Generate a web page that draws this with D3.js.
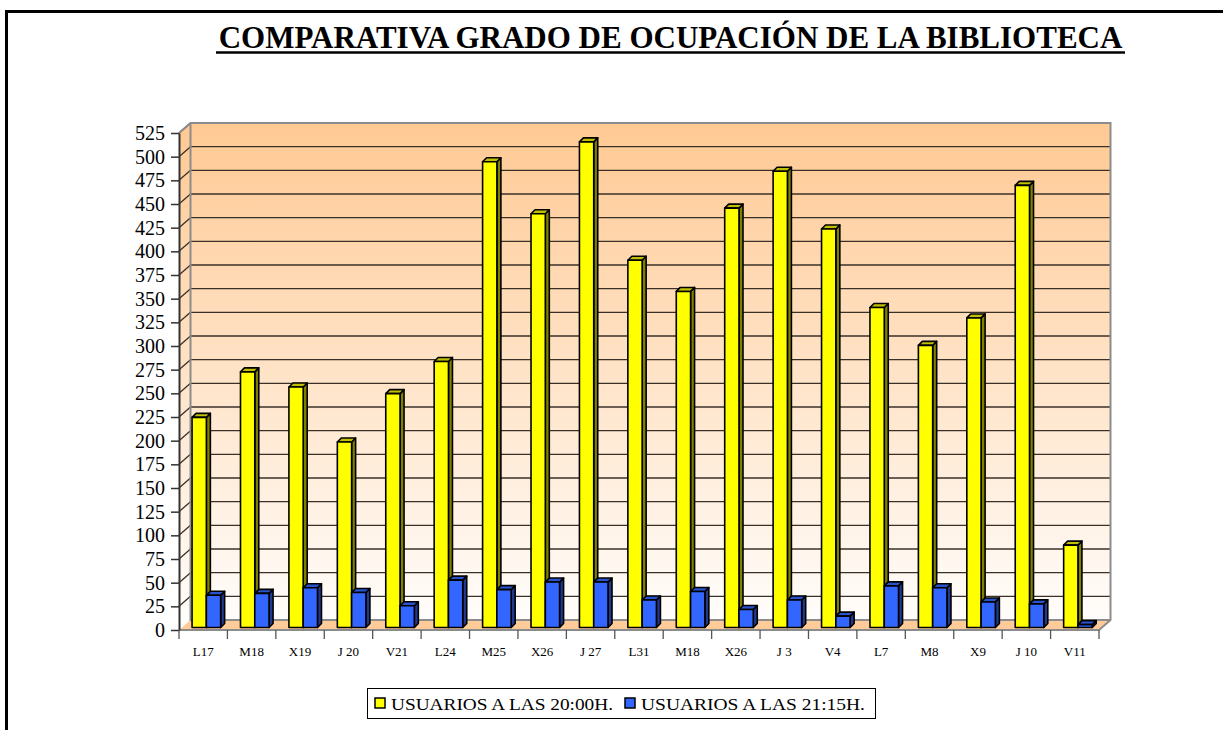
<!DOCTYPE html>
<html>
<head>
<meta charset="utf-8">
<script src="https://cdn.jsdelivr.net/npm/d3@7"></script>
<style>
  body { margin: 0; background: #fff; }
  text { font-family: "Liberation Serif", "Times New Roman", serif; }
</style>
</head>
<body>
<svg id="chart" width="1223" height="730"></svg>
<script>
// dias y usuarios contados en la biblioteca
var categories = ["L17", "M18", "X19", "J 20", "V21", "L24", "M25", "X26", "J 27", "L31",
                  "M18", "X26", "J 3", "V4", "L7", "M8", "X9", "J 10", "V11"];
var usuarios2000 = [222, 270, 254, 196, 247, 281, 492, 437, 513, 388, 355, 443, 482, 421, 338, 298, 327, 467, 87];
var usuarios2115 = [34, 36, 42, 37, 23, 50, 40, 48, 48, 29, 38, 19, 29, 12, 44, 42, 27, 25, 3];
var yTicks = [0, 25, 50, 75, 100, 125, 150, 175, 200, 225, 250, 275, 300, 325, 350, 375, 400, 425, 450, 475, 500, 525];
var seriesNames = ["USUARIOS A LAS 20:00H.", "USUARIOS A LAS 21:15H."];

window.onload = function() {
	var svg = d3.select("#chart");

	var left = 179, right = 1099, bottom = 630, top = 133;
	var depthX = 11.5, depthY = -10;   // profundidad de las paredes
	var barDX = 4, barDY = -4;         // profundidad de las barras

	var x = d3.scaleBand()
		.domain(d3.range(categories.length))
		.range([left, right]);
	var y = d3.scaleLinear().domain([0, 525]).range([bottom, top]);
	// las barras estan un poco hacia dentro del suelo
	var yBar = d3.scaleLinear().domain([0, 525]).range([bottom - 2.5, top - 2.5]);
	var bw = x.bandwidth();

	// marco exterior
	svg.append("rect")
		.attr("x", 6.5).attr("y", 11.5)
		.attr("width", 1400).attr("height", 900)
		.attr("fill", "none")
		.attr("stroke", "#000")
		.attr("stroke-width", 3);

	// titulo
	var title = svg.append("text")
		.attr("x", 670.5)
		.attr("y", 48)
		.attr("text-anchor", "middle")
		.style("font-size", "31px")
		.style("font-weight", "bold")
		.text("COMPARATIVA GRADO DE OCUPACIÓN DE LA BIBLIOTECA");
	svg.append("line")
		.attr("x1", 216).attr("x2", 1125)
		.attr("y1", 52.5).attr("y2", 52.5)
		.attr("stroke", "#000")
		.attr("stroke-width", 2.5);

	// degradado de fondo
	var grad = svg.append("defs").append("linearGradient")
		.attr("id", "wall")
		.attr("gradientUnits", "userSpaceOnUse")
		.attr("x1", 0).attr("x2", 0)
		.attr("y1", top + depthY).attr("y2", bottom + depthY);
	grad.append("stop").attr("offset", "0%").attr("stop-color", "#ffc993");
	grad.append("stop").attr("offset", "100%").attr("stop-color", "#fffdfb");

	var bx0 = left + depthX, bx1 = right + depthX;
	var by0 = top + depthY, by1 = bottom + depthY;

	// pared lateral
	svg.append("polygon")
		.attr("points", [[left, top], [bx0, by0], [bx0, by1], [left, bottom]].join(" "))
		.attr("fill", "url(#wall)");
	// pared del fondo
	svg.append("rect")
		.attr("x", bx0).attr("y", by0)
		.attr("width", bx1 - bx0).attr("height", by1 - by0)
		.attr("fill", "url(#wall)");
	// suelo
	svg.append("polygon")
		.attr("points", [[left, bottom], [right, bottom], [bx1, by1], [bx0, by1]].join(" "))
		.attr("fill", "#ffcc99");

	// lineas de division
	svg.append("g").selectAll("line.grid")
		.data(yTicks.slice(1, -1))
		.enter().append("line")
			.attr("x1", bx0).attr("x2", bx1)
			.attr("y1", function(d) { return y(d) + depthY; })
			.attr("y2", function(d) { return y(d) + depthY; })
			.attr("stroke", "#3a3028")
			.attr("stroke-width", 1.3);
	svg.append("g").selectAll("line.diag")
		.data(yTicks.slice(1))
		.enter().append("line")
			.attr("x1", left).attr("x2", bx0)
			.attr("y1", function(d) { return y(d); })
			.attr("y2", function(d) { return y(d) + depthY; })
			.attr("stroke", "#3a3028")
			.attr("stroke-width", 1.3);

	// bordes grises
	svg.append("path")
		.attr("d", "M" + left + "," + top + "L" + bx0 + "," + by0 + "H" + bx1 + "V" + by1 +
			"L" + right + "," + bottom + "H" + left + "M" + bx0 + "," + by0 + "V" + by1 + "H" + bx1)
		.attr("fill", "none")
		.attr("stroke", "#8c8c8c")
		.attr("stroke-width", 2);

	// barras 3D
	function drawBar(g, x0, w, v, front, side, topC) {
		var yt = yBar(v), yb = yBar(0);
		g.append("polygon")
			.attr("points", [[x0 + w, yt], [x0 + w + barDX, yt + barDY], [x0 + w + barDX, yb + barDY], [x0 + w, yb]].join(" "))
			.attr("fill", side);
		g.append("polygon")
			.attr("points", [[x0, yt], [x0 + barDX, yt + barDY], [x0 + w + barDX, yt + barDY], [x0 + w, yt]].join(" "))
			.attr("fill", topC);
		g.append("rect")
			.attr("x", x0).attr("y", yt)
			.attr("width", w).attr("height", yb - yt)
			.attr("fill", front);
	}

	var bars = svg.append("g")
		.attr("stroke", "#000")
		.attr("stroke-width", 1.6)
		.attr("stroke-linejoin", "round");
	var w = bw * 0.295;
	categories.forEach(function(c, i) {
		var g = bars.append("g");
		var x0 = x(i) + bw * 0.27;
		drawBar(g, x0, w, usuarios2000[i], "#ffff00", "#808000", "#c0c000");
		drawBar(g, x0 + w, w, usuarios2115[i], "#3366ff", "#1f3a8f", "#2a52cc");
	});

	// eje y
	var yAxis = svg.append("g")
		.attr("transform", "translate(" + left + ",0)")
		.call(d3.axisLeft(y).tickValues(yTicks).tickSize(8).tickSizeOuter(0).tickPadding(6));
	yAxis.select(".domain").attr("stroke", "#333").attr("stroke-width", 2);
	yAxis.selectAll(".tick line").attr("stroke", "#333").attr("stroke-width", 1.5);
	yAxis.selectAll("text")
		.style("font-size", "20px")
		.style("font-family", "Liberation Serif, serif")
		.attr("fill", "#000");

	// eje x
	svg.append("g").selectAll("line")
		.data(d3.range(categories.length + 1))
		.enter().append("line")
			.attr("x1", function(d) { return left + d * bw; })
			.attr("x2", function(d) { return left + d * bw; })
			.attr("y1", bottom).attr("y2", bottom + 9)
			.attr("stroke", "#555")
			.attr("stroke-width", 1.3);
	svg.append("g").selectAll("text")
		.data(categories)
		.enter().append("text")
			.attr("x", function(d, i) { return x(i) + bw / 2; })
			.attr("y", 656)
			.attr("text-anchor", "middle")
			.style("font-size", "13px")
			.text(function(d) { return d; });

	// leyenda
	var legend = svg.append("g");
	legend.append("rect")
		.attr("x", 367.5).attr("y", 688.5)
		.attr("width", 508).attr("height", 30)
		.attr("fill", "#fff")
		.attr("stroke", "#000")
		.attr("stroke-width", 1);
	var items = [
		{ name: seriesNames[0], color: "#ffff00", sx: 375, tx: 391, tw: 222 },
		{ name: seriesNames[1], color: "#3366ff", sx: 625, tx: 641, tw: 224 }
	];
	var item = legend.selectAll(".item")
		.data(items)
		.enter().append("g");
	item.append("rect")
		.attr("x", function(d) { return d.sx; })
		.attr("y", 698)
		.attr("width", 10).attr("height", 10)
		.attr("fill", function(d) { return d.color; })
		.attr("stroke", "#000")
		.attr("stroke-width", 1.5);
	item.append("text")
		.attr("x", function(d) { return d.tx; })
		.attr("y", 710)
		.attr("textLength", function(d) { return d.tw; })
		.attr("lengthAdjust", "spacingAndGlyphs")
		.style("font-size", "17px")
		.text(function(d) { return d.name; });
}
</script>
</body>
</html>
